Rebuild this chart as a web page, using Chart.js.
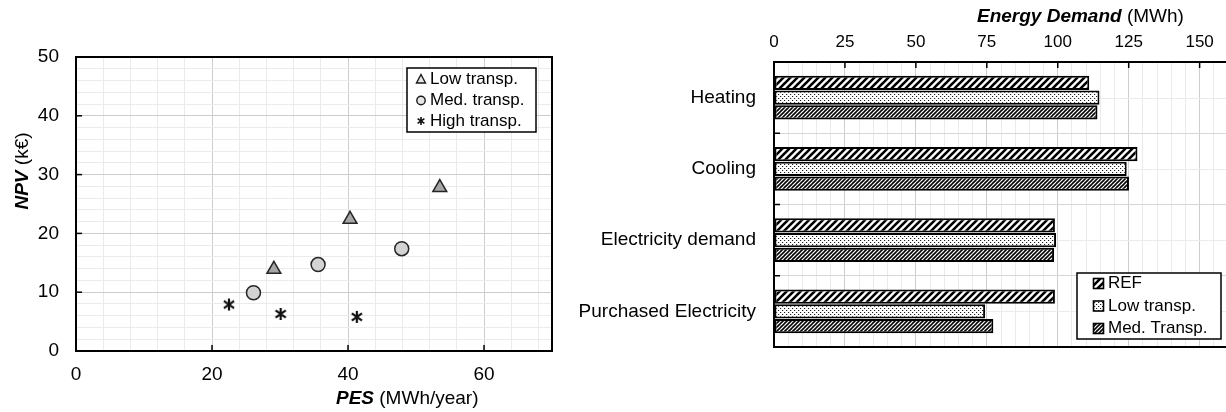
<!DOCTYPE html>
<html>
<head>
<meta charset="utf-8">
<script src="https://cdn.jsdelivr.net/npm/chart.js@4.4.1/dist/chart.umd.min.js"></script>
<style>
  html, body { margin: 0; padding: 0; background: #fff; overflow: hidden; width: 1226px; height: 412px; }
  #npvChart { position: absolute; left: 0; top: 0; }
  #demandChart { position: absolute; left: 560px; top: 0; }
</style>
</head>
<body>
<canvas id="npvChart" width="570" height="412"></canvas>
<canvas id="demandChart" width="668" height="412"></canvas>
<script>
// ---- Scatter: NPV against primary energy saving ----
const scatterLabels = ['Low transp.', 'Med. transp.', 'High transp.'];
const pesLow  = [29.1, 40.3, 53.5];
const npvLow  = [13.9, 22.4, 27.8];
const pesMed  = [26.1, 35.6, 47.9];
const npvMed  = [9.9, 14.7, 17.4];
const pesHigh = [22.5, 30.1, 41.3];
const npvHigh = [7.9, 6.3, 5.8];
const pesTickLabels = [0, 20, 40, 60];
const npvTickLabels = [0, 10, 20, 30, 40, 50];

// ---- Bars: energy demand by item ----
const demandCategories = ['Heating', 'Cooling', 'Electricity demand', 'Purchased Electricity'];
const barLabels = ['REF', 'Low transp.', 'Med. Transp.'];
const demandRef = [111.1, 128.1, 99.0, 99.0];
const demandLow = [114.7, 124.3, 99.4, 74.4];
const demandMed = [114.0, 125.1, 98.7, 77.3];
const demandTickLabels = [0, 25, 50, 75, 100, 125, 150];

const FAMILY = '"Liberation Sans", Arial, Helvetica, sans-serif';
const INK = '#000';
const GRID_MAJOR = '#cdcdcd';
const GRID_MINOR = '#ebebeb';

// evenly spaced grid positions (minor + major lines)
function gridTicks(min, max, step) {
  const out = [];
  for (let i = 0; min + i * step <= max + 1e-9; i++) out.push({ value: min + i * step });
  if (out[out.length - 1].value < max) out.push({ value: max });
  return out;
}

// hatch / dot fills for the bars
function makeTile(size, draw) {
  const c = document.createElement('canvas');
  c.width = size; c.height = size;
  const g = c.getContext('2d');
  g.fillStyle = '#fff';
  g.fillRect(0, 0, size, size);
  draw(g, size);
  return document.getElementById('demandChart').getContext('2d').createPattern(c, 'repeat');
}
function diagonal(width) {
  return (g, s) => {
    g.strokeStyle = '#000';
    g.lineWidth = width;
    g.lineCap = 'square';
    for (const k of [-s, 0, s]) {
      g.beginPath();
      g.moveTo(k, s);
      g.lineTo(k + s, 0);
      g.stroke();
    }
  };
}
const fillRef = makeTile(7, diagonal(2.6));
const fillLow = makeTile(4, (g) => {
  g.fillStyle = '#1e1e1e';
  g.fillRect(0, 0, 1, 1);
  g.fillRect(2, 2, 1, 1);
  g.fillStyle = '#d8d8d8';
  g.fillRect(1, 0, 1, 1);
  g.fillRect(3, 2, 1, 1);
});
const fillMed = makeTile(4, diagonal(1.6));
const barFills = [fillRef, fillLow, fillMed];

// asterisk marker (X with a vertical stroke)
function asteriskMarker(size, lw) {
  const c = document.createElement('canvas');
  c.width = size; c.height = size;
  const g = c.getContext('2d');
  const m = size / 2, r = size / 2 - 1;
  g.strokeStyle = '#111';
  g.lineWidth = lw;
  g.beginPath();
  g.moveTo(m, m - r); g.lineTo(m, m + r);
  g.moveTo(m - r * 0.85, m - r * 0.6); g.lineTo(m + r * 0.85, m + r * 0.6);
  g.moveTo(m + r * 0.85, m - r * 0.6); g.lineTo(m - r * 0.85, m + r * 0.6);
  g.stroke();
  return c;
}
const starBig = asteriskMarker(14, 2.2);
const starSmall = asteriskMarker(10, 1.6);

// text with a bold-italic lead and a regular tail
function drawParts(ctx, parts, size, x, y, align, rotate) {
  ctx.save();
  ctx.translate(x, y);
  if (rotate) ctx.rotate(-Math.PI / 2);
  ctx.textBaseline = 'middle';
  ctx.textAlign = 'left';
  ctx.fillStyle = INK;
  const fonts = parts.map(p => (p.bold ? 'italic bold ' : '') + size + 'px ' + FAMILY);
  const widths = parts.map((p, i) => { ctx.font = fonts[i]; return ctx.measureText(p.text).width; });
  const total = widths.reduce((a, b) => a + b, 0);
  let cx = align === 'center' ? -total / 2 : 0;
  parts.forEach((p, i) => { ctx.font = fonts[i]; ctx.fillText(p.text, cx, 0); cx += widths[i]; });
  ctx.restore();
}

// plot frame, inward tick marks, extra grid lines, axis titles, boxed legend
const decorPlugin = {
  id: 'decor',
  beforeDatasetsDraw(chart, args, opts) {
    if (!opts.centerLines) return;
    const { ctx, chartArea: a } = chart;
    const ys = chart.scales.y;
    ctx.save();
    ctx.strokeStyle = GRID_MINOR;
    ctx.lineWidth = 1;
    chart.data.labels.forEach((_, i) => {
      const p = Math.round(ys.getPixelForValue(i)) + 0.5;
      ctx.beginPath(); ctx.moveTo(a.left, p); ctx.lineTo(a.right, p); ctx.stroke();
    });
    ctx.restore();
  },
  afterDatasetsDraw(chart, args, opts) {
    const { ctx, chartArea: a } = chart;
    ctx.save();
    ctx.strokeStyle = INK;
    ctx.lineWidth = 2;
    ctx.strokeRect(a.left, a.top, a.right - a.left, a.bottom - a.top);
    ctx.lineWidth = 1.5;
    (opts.marks || []).forEach(m => {
      const s = chart.scales[m.axis];
      const pix = m.between
        ? m.values.map(i => (s.getPixelForValue(i - 1) + s.getPixelForValue(i)) / 2)
        : m.values.map(v => s.getPixelForValue(v));
      pix.forEach(p => {
        ctx.beginPath();
        if (m.side === 'bottom') { ctx.moveTo(p, a.bottom); ctx.lineTo(p, a.bottom - 6); }
        if (m.side === 'top')    { ctx.moveTo(p, a.top);    ctx.lineTo(p, a.top + 6); }
        if (m.side === 'left')   { ctx.moveTo(a.left, p);   ctx.lineTo(a.left + 6, p); }
        ctx.stroke();
      });
    });
    ctx.restore();
  },
  afterDraw(chart, args, opts) {
    const { ctx } = chart;
    (opts.titles || []).forEach(t => drawParts(ctx, t.parts, t.size, t.x, t.y, t.align, t.rotate));
    const lg = opts.legend;
    if (!lg) return;
    ctx.save();
    ctx.fillStyle = '#fff';
    ctx.fillRect(lg.x, lg.y, lg.w, lg.h);
    ctx.strokeStyle = INK;
    ctx.lineWidth = 1.5;
    ctx.strokeRect(lg.x, lg.y, lg.w, lg.h);
    ctx.font = lg.size + 'px ' + FAMILY;
    ctx.textBaseline = 'middle';
    ctx.textAlign = 'left';
    chart.data.datasets.forEach((ds, i) => {
      const y = lg.rows[i];
      lg.swatch(ctx, ds, lg.markX, y);
      ctx.fillStyle = INK;
      ctx.fillText(ds.label, lg.textX, y);
    });
    ctx.restore();
  }
};

// ---------- left chart ----------
function scatterSwatch(ctx, ds, x, y) {
  ctx.save();
  ctx.strokeStyle = '#1a1a1a';
  ctx.lineWidth = 1.4;
  ctx.fillStyle = '#e6e6e6';
  if (ds.pointStyle === 'triangle') {
    ctx.beginPath();
    ctx.moveTo(x, y - 5); ctx.lineTo(x + 4.5, y + 3.5); ctx.lineTo(x - 4.5, y + 3.5); ctx.closePath();
    ctx.fill(); ctx.stroke();
  } else if (ds.pointStyle === 'circle') {
    ctx.beginPath(); ctx.arc(x, y, 4.2, 0, Math.PI * 2); ctx.fill(); ctx.stroke();
  } else {
    ctx.drawImage(starSmall, x - 5, y - 5);
  }
  ctx.restore();
}

const pairs = (xs, ys) => xs.map((x, i) => ({ x, y: ys[i] }));

new Chart(document.getElementById('npvChart'), {
  type: 'scatter',
  data: {
    datasets: [
      { label: scatterLabels[0], data: pairs(pesLow, npvLow), pointStyle: 'triangle', pointRadius: 8,
        backgroundColor: '#a6a6a6', borderColor: '#262626', borderWidth: 1.5 },
      { label: scatterLabels[1], data: pairs(pesMed, npvMed), pointStyle: 'circle', pointRadius: 7,
        backgroundColor: '#d3d3d3', borderColor: '#262626', borderWidth: 1.5 },
      { label: scatterLabels[2], data: pairs(pesHigh, npvHigh), pointStyle: starBig, pointRadius: 7,
        backgroundColor: '#000', borderColor: '#000' }
    ]
  },
  options: {
    responsive: false,
    animation: false,
    events: [],
    layout: { padding: { top: 57, right: 18, bottom: 0, left: 0 } },
    plugins: {
      legend: { display: false },
      tooltip: { enabled: false },
      decor: {
        marks: [
          { axis: 'x', side: 'bottom', values: [20, 40, 60] },
          { axis: 'y', side: 'left', values: [10, 20, 30, 40] }
        ],
        titles: [
          { parts: [{ text: 'PES', bold: true }, { text: ' (MWh/year)' }], size: 19, x: 336, y: 399, align: 'left' },
          { parts: [{ text: 'NPV', bold: true }, { text: ' (k€)' }], size: 19, x: 23, y: 171, align: 'center', rotate: true }
        ],
        legend: {
          x: 407, y: 68, w: 129, h: 64, size: 17,
          rows: [79.5, 100.5, 121], markX: 421, textX: 430, swatch: scatterSwatch
        }
      }
    },
    scales: {
      x: {
        type: 'linear', min: 0, max: 70,
        afterBuildTicks: s => { s.ticks = gridTicks(0, 70, 4); },
        afterFit: s => { s.height = 61; },
        ticks: {
          autoSkip: false, maxRotation: 0, padding: 12, color: INK,
          font: { family: FAMILY, size: 19 },
          callback: v => pesTickLabels.includes(v) ? String(v) : ''
        },
        grid: { drawTicks: false, lineWidth: 1, color: c => pesTickLabels.includes(c.tick.value) ? GRID_MAJOR : GRID_MINOR },
        border: { display: false }
      },
      y: {
        type: 'linear', min: 0, max: 50,
        afterBuildTicks: s => { s.ticks = gridTicks(0, 50, 2); },
        afterFit: s => { s.width = 76; },
        ticks: {
          autoSkip: false, padding: 17, color: INK,
          font: { family: FAMILY, size: 19 },
          callback: v => npvTickLabels.includes(v) ? String(v) : ''
        },
        grid: { drawTicks: false, lineWidth: 1, color: c => npvTickLabels.includes(c.tick.value) ? GRID_MAJOR : GRID_MINOR },
        border: { display: false }
      }
    }
  },
  plugins: [decorPlugin]
});

// ---------- right chart ----------
function barSwatch(ctx, ds, x, y) {
  ctx.save();
  ctx.fillStyle = ds.backgroundColor;
  ctx.fillRect(x - 5, y - 5, 10, 10);
  ctx.strokeStyle = '#000';
  ctx.lineWidth = 1.6;
  ctx.strokeRect(x - 5, y - 5, 10, 10);
  ctx.restore();
}

new Chart(document.getElementById('demandChart'), {
  type: 'bar',
  data: {
    labels: demandCategories,
    datasets: [demandRef, demandLow, demandMed].map((d, i) => ({
      label: barLabels[i],
      data: d,
      backgroundColor: barFills[i],
      borderColor: '#000',
      borderWidth: 2,
      borderSkipped: false
    }))
  },
  options: {
    indexAxis: 'y',
    responsive: false,
    animation: false,
    events: [],
    layout: { padding: { top: 0, right: 0, bottom: 65, left: 0 } },
    datasets: { bar: { categoryPercentage: 0.62, barPercentage: 0.97 } },
    plugins: {
      legend: { display: false },
      tooltip: { enabled: false },
      decor: {
        centerLines: true,
        marks: [
          { axis: 'x', side: 'top', values: [25, 50, 75, 100, 125, 150] },
          { axis: 'y', side: 'left', values: [1, 2, 3], between: true }
        ],
        titles: [
          { parts: [{ text: 'Energy Demand', bold: true }, { text: ' (MWh)' }], size: 19, x: 417, y: 17, align: 'left' }
        ],
        legend: {
          x: 517, y: 273, w: 144, h: 66, size: 17,
          rows: [283.5, 306, 328.5], markX: 538.5, textX: 548, swatch: barSwatch
        }
      }
    },
    scales: {
      x: {
        type: 'linear', position: 'top', min: 0, max: 160,
        afterBuildTicks: s => { s.ticks = gridTicks(0, 160, 5); },
        // the axis runs to the page edge, so no side padding for end labels
        afterFit: s => { s.height = 62; s.paddingLeft = 0; s.paddingRight = 0; },
        ticks: {
          autoSkip: false, maxRotation: 0, padding: 9, color: INK,
          font: { family: FAMILY, size: 17 },
          callback: v => demandTickLabels.includes(v) ? String(v) : ''
        },
        grid: { drawTicks: false, lineWidth: 1, color: c => demandTickLabels.includes(c.tick.value) ? GRID_MAJOR : GRID_MINOR },
        border: { display: false }
      },
      y: {
        type: 'category',
        afterFit: s => { s.width = 214; },
        ticks: { padding: 18, color: INK, font: { family: FAMILY, size: 19 } },
        grid: { offset: true, drawTicks: false, lineWidth: 1, color: '#d6d6d6' },
        border: { display: false }
      }
    }
  },
  plugins: [decorPlugin]
});
</script>
</body>
</html>
